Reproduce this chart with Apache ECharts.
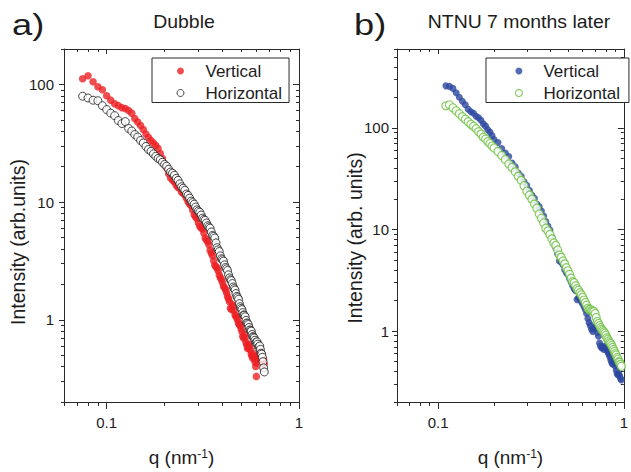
<!DOCTYPE html>
<html>
<head>
<meta charset="utf-8">
<script src="https://cdn.jsdelivr.net/npm/echarts@6/dist/echarts.min.js"></script>
<style>
html,body{margin:0;padding:0;background:#fff;}
#chart{width:631px;height:472px;}
</style>
</head>
<body>
<div id="chart"></div>
<script>
// ---------- data ----------
const qA = [0.075,0.08,0.085,0.09,0.095,0.1,0.105,0.11,0.115,0.12,0.125,0.13,0.135,0.14,0.145,0.15,0.155,0.16,0.165,0.17,0.175,0.18,0.185,0.19,0.195,0.2,
  0.205,0.21,0.215,0.22,0.225,0.23,0.235,0.24,0.245,0.25,
  0.255,0.26,0.265,0.27,0.275,0.28,0.285,0.29,0.295,0.3,
  0.305,0.31,0.315,0.32,0.325,0.33,0.335,0.34,0.345,0.35,
  0.355,0.36,0.365,0.37,0.375,0.38,0.385,0.39,0.395,0.4,
  0.405,0.41,0.415,0.42,0.425,0.43,0.435,0.44,0.445,0.45,
  0.455,0.46,0.465,0.47,0.475,0.48,0.485,0.49,0.495,0.5,
  0.505,0.51,0.515,0.52,0.525,0.53,0.535,0.54,0.545,0.55,
  0.555,0.56,0.565,0.57,0.575,0.58,0.585,0.59,0.595,0.6,
  0.605,0.61,0.615,0.62,0.625,0.63,0.635,0.64,0.645,0.65,
  0.655,0.66];
const verticalA = [111.6,118.3,105.2,95.5,90.1,80.2,73.5,68.6,66.0,63.5,62.3,59.9,57.0,51.3,47.9,44.7,41.4,37.9,35.4,33.4,31.8,30.3,28.6,25.9,23.5,21.0,
  19.5,17.4,16.0,15.3,14.8,13.9,13.3,13.1,12.2,11.9,
  11.5,10.8,10.0,9.61,9.3,8.55,7.8,7.46,7.2,6.64,
  6.2,6.03,5.9,5.47,4.95,4.77,4.6,4.33,3.9,3.70,
  3.5,3.17,2.9,2.82,2.75,2.61,2.4,2.28,2.2,2.07,
  1.93,1.87,1.80,1.70,1.58,1.51,1.42,1.25,1.22,1.35,
  1.30,1.20,1.10,1.07,1.04,0.99,0.93,0.91,0.89,0.84,
  0.79,0.72,0.70,0.75,0.70,0.64,0.61,0.57,0.58,0.62,
  0.59,0.55,0.51,0.49,0.47,0.51,0.48,0.44,0.40,0.33,
  0.43,0.47,0.50,0.52,0.50,0.55,0.53,0.49,0.47,0.45,
  0.46,0.42];
const horizontalA = [79.4,76.7,73.4,72.7,66.0,61.1,57.0,54.3,49.3,46.5,48.3,42.2,40.2,37.5,35.7,33.4,31.8,29.7,28.0,27.0,25.7,24.5,23.5,22.9,21.8,20.9,
  20.2,19.0,18.0,17.6,16.9,15.9,15.3,14.3,13.5,13.1,
  12.6,11.7,11.4,10.8,10.2,9.9,9.6,9.07,8.6,8.39,
  8.2,7.76,7.3,7.11,7.0,6.64,6.3,6.14,6.0,5.57,
  5.2,5.11,4.95,4.50,4.1,3.93,3.8,3.49,3.3,3.23,
  3.15,2.93,2.78,2.71,2.62,2.41,2.27,2.19,2.15,2.03,
  1.90,1.84,1.79,1.67,1.58,1.54,1.49,1.37,1.29,1.25,
  1.22,1.15,1.10,1.09,1.06,0.99,0.94,0.93,0.91,0.86,
  0.82,0.81,0.80,0.75,0.72,0.71,0.70,0.67,0.64,0.64,
  0.65,0.62,0.58,0.59,0.60,0.56,0.52,0.51,0.48,0.44,
  0.39,0.36];

const qB = [0.11,0.115,0.12,0.125,0.13,0.135,0.14,0.145,0.15,0.155,0.16,0.165,0.17,0.175,0.18,0.185,0.19,0.195,0.2,
  0.21,0.22,0.23,0.24,0.25,0.26,0.27,0.28,0.29,0.3,
  0.31,0.32,0.33,0.34,0.35,0.36,0.37,0.38,0.39,0.4,
  0.41,0.42,0.43,0.44,0.45,0.46,0.47,0.48,0.49,0.5,
  0.51,0.52,0.53,0.54,0.55,0.56,0.57,0.58,0.59,0.6,
  0.61,0.62,0.63,0.64,0.65,0.66,0.67,0.68,0.69,0.7,
  0.71,0.72,0.73,0.74,0.75,0.76,0.77,0.78,0.79,0.8,
  0.81,0.82,0.83,0.84,0.85,0.86,0.87,0.88,0.89,0.9,
  0.91,0.92,0.93,0.94,0.95,0.96,0.97];
const verticalB = [260,257,245.5,222,200.5,183.2,169.3,152.9,144.5,139.7,130.6,126.2,119.3,110.3,104.3,96.3,91.1,84.1,76.9,
  71.8,62.8,56.7,52.4,45.3,41.4,36.1,33.4,29.5,27.3,
  24.3,21.8,20.3,17.8,16.8,15.2,13.6,12.0,10.8,9.88,
  8.44,7.38,6.59,5.75,4.91,4.80,4.49,4.01,3.75,3.58,
  3.27,3.03,2.79,2.61,2.50,2.04,2.13,2.13,1.95,1.86,
  1.74,1.63,1.49,1.33,1.21,1.13,1.04,0.99,1.06,1.11,
  1.06,0.97,0.89,0.76,0.71,0.68,0.69,0.66,0.71,0.68,
  0.65,0.62,0.59,0.56,0.52,0.49,0.47,0.50,0.48,0.45,
  0.41,0.38,0.37,0.38,0.36,0.34,0.33];
const horizontalB = [165.5,169.3,158.2,147.8,138.1,129.1,122.1,115.4,109.1,104.3,98.6,91.9,87.1,81.3,77.8,73.5,70.3,66.4,63.5,
  58.6,53.6,49.0,44.3,40.9,37.0,33.4,30.5,27.0,23.8,
  21.8,19.9,17.8,16.2,14.2,12.9,11.6,10.3,9.66,8.93,
  8.07,7.38,6.97,6.30,5.62,5.32,4.91,4.59,4.20,3.92,
  3.62,3.31,3.06,2.99,2.80,2.61,2.52,2.39,2.28,2.16,
  2.02,1.91,1.80,1.68,1.63,1.63,1.59,1.57,1.56,1.49,
  1.36,1.24,1.19,1.13,1.08,1.04,1.01,0.98,0.95,0.91,
  0.86,0.83,0.80,0.77,0.75,0.72,0.69,0.66,0.63,0.60,
  0.58,0.55,0.53,0.50,0.49,0.47,0.45];

const xMajorTicks = [0.1, 1];
const xMinorTicks = [0.06,0.07,0.08,0.09,0.2,0.3,0.4,0.5,0.6,0.7,0.8,0.9];
const yMajorTicks = [1, 10, 100];
const yMinorTicksA = [0.2,0.3,0.4,0.5,0.6,0.7,0.8,0.9,2,3,4,5,6,7,8,9,20,30,40,50,60,70,80,90,200];
const yMinorTicksB = [0.2,0.3,0.4,0.5,0.6,0.7,0.8,0.9,2,3,4,5,6,7,8,9,20,30,40,50,60,70,80,90,200,300,400,500,600];

const panelLetters = ['a)', 'b)'];
const panelTitles = ['Dubble', 'NTNU 7 months later'];
const yNames = ['Intensity (arb.units)', 'Intensity (arb. units)'];
const xName = 'q (nm{sup|-1})';
const seriesNames = ['Vertical', 'Horizontal'];

// ---------- styling ----------
const FONT = '"Liberation Sans", Arial, Helvetica, sans-serif';
const AX = '#2a2a2a';
const TXT = '#1c1c1c';
const RED = '#ec2024';
const BLUE = '#2c479f';
const GREEN = '#6cbf3e';

function xAxes(g) {
  const base = {gridIndex: g, type: 'log', logBase: 10, min: 0.06, max: 1,
    splitLine: {show: false}, minorTick: {show: false}, minorSplitLine: {show: false}};
  const line = {show: true, onZero: false, lineStyle: {color: AX, width: 1}};
  return [
    Object.assign({}, base, {position: 'bottom', axisLine: line,
      axisTick: {show: true, inside: false, length: 7, customValues: xMajorTicks, lineStyle: {color: AX, width: 1}},
      axisLabel: {show: true, customValues: xMajorTicks, margin: 13, fontSize: 15, fontFamily: FONT, color: TXT,
        formatter: v => String(v)},
      name: xName, nameLocation: 'middle', nameGap: 46,
      nameTextStyle: {fontSize: 19, lineHeight: 19, fontFamily: FONT, color: TXT,
        rich: {sup: {fontSize: 12, lineHeight: 10, verticalAlign: 'top', fontFamily: FONT, color: TXT}}}}),
    Object.assign({}, base, {position: 'bottom', axisLine: {show: false, onZero: false},
      axisTick: {show: true, inside: false, length: 4, customValues: xMinorTicks, lineStyle: {color: AX, width: 1}},
      axisLabel: {show: false}}),
    Object.assign({}, base, {position: 'top', axisLine: line,
      axisTick: {show: true, inside: true, length: 5, customValues: xMajorTicks, lineStyle: {color: AX, width: 1}},
      axisLabel: {show: false}}),
    Object.assign({}, base, {position: 'top', axisLine: {show: false, onZero: false},
      axisTick: {show: true, inside: true, length: 3, customValues: xMinorTicks, lineStyle: {color: AX, width: 1}},
      axisLabel: {show: false}})
  ];
}

function yAxes(g, maxV, minorTicks, labelMargin) {
  const base = {gridIndex: g, type: 'log', logBase: 10, min: 0.2, max: maxV,
    splitLine: {show: false}, minorTick: {show: false}, minorSplitLine: {show: false}};
  const line = {show: true, onZero: false, lineStyle: {color: AX, width: 1}};
  return [
    Object.assign({}, base, {position: 'left', axisLine: line,
      axisTick: {show: true, inside: false, length: 5, customValues: yMajorTicks, lineStyle: {color: AX, width: 1}},
      axisLabel: {show: true, customValues: yMajorTicks, margin: labelMargin, fontSize: 15, fontFamily: FONT, color: TXT,
        formatter: v => String(v)}}),
    Object.assign({}, base, {position: 'left', axisLine: {show: false, onZero: false},
      axisTick: {show: true, inside: false, length: 3, customValues: minorTicks, lineStyle: {color: AX, width: 1}},
      axisLabel: {show: false}}),
    Object.assign({}, base, {position: 'right', axisLine: line,
      axisTick: {show: true, inside: true, length: 6, customValues: yMajorTicks, lineStyle: {color: AX, width: 1}},
      axisLabel: {show: false}}),
    Object.assign({}, base, {position: 'right', axisLine: {show: false, onZero: false},
      axisTick: {show: true, inside: true, length: 3, customValues: minorTicks, lineStyle: {color: AX, width: 1}},
      axisLabel: {show: false}})
  ];
}

function pairs(qs, vs) { return qs.map((q, i) => [q, vs[i]]); }

function legendBox(left, padL, padR, textGap, items) {
  return {
    left: left, top: 58, orient: 'vertical', icon: 'circle',
    itemWidth: 7, itemHeight: 7, itemGap: 5,
    padding: [4.5, padR, 1, padL],
    borderColor: '#2a2a2a', borderWidth: 1, backgroundColor: '#fff',
    textStyle: {fontSize: 17, fontFamily: FONT, color: TXT, padding: [0, 0, 0, textGap]},
    selectedMode: false,
    data: items
  };
}

const chart = echarts.init(document.getElementById('chart'), null, {renderer: 'svg', width: 631, height: 472});

const option = {
  backgroundColor: '#fff',
  animation: false,
  grid: [
    {left: 64, top: 49, width: 235, height: 355, containLabel: false},
    {left: 397, top: 49, width: 237, height: 355, containLabel: false}
  ],
  xAxis: xAxes(0).concat(xAxes(1)),
  yAxis: yAxes(0, 200, yMinorTicksA, 10).concat(yAxes(1, 600, yMinorTicksB, 8)),
  legend: [
    legendBox(152, 24.5, 7, 16.5, [
      {name: seriesNames[0], itemStyle: {color: RED, borderWidth: 0}},
      {name: seriesNames[1], itemStyle: {color: '#fff', borderColor: '#1a1a1a', borderWidth: 1}}
    ]),
    legendBox(486, 28.8, 9, 16, [
      {name: seriesNames[0], itemStyle: {color: BLUE, borderWidth: 0}},
      {name: seriesNames[1], itemStyle: {color: '#fff', borderColor: GREEN, borderWidth: 1.2}}
    ])
  ],
  series: [
    {type: 'scatter', name: seriesNames[0], xAxisIndex: 0, yAxisIndex: 0, symbol: 'circle', symbolSize: 7.5,
      itemStyle: {color: RED}, data: pairs(qA, verticalA)},
    {type: 'scatter', name: seriesNames[1], xAxisIndex: 0, yAxisIndex: 0, symbol: 'circle', symbolSize: 8,
      itemStyle: {color: '#fff', borderColor: '#1a1a1a', borderWidth: 1}, data: pairs(qA, horizontalA)},
    {type: 'scatter', name: seriesNames[0], xAxisIndex: 4, yAxisIndex: 4, symbol: 'circle', symbolSize: 7,
      itemStyle: {color: BLUE}, data: pairs(qB, verticalB)},
    {type: 'scatter', name: seriesNames[1], xAxisIndex: 4, yAxisIndex: 4, symbol: 'circle', symbolSize: 8,
      itemStyle: {color: '#fff', borderColor: GREEN, borderWidth: 1.2}, data: pairs(qB, horizontalB)}
  ],
  graphic: [
    {type: 'text', x: 12, y: 25, scaleX: 1.25,
      style: {text: panelLetters[0], fontSize: 29, fontFamily: FONT, fill: TXT, align: 'left', verticalAlign: 'middle'}},
    {type: 'text', x: 354, y: 25, scaleX: 1.25,
      style: {text: panelLetters[1], fontSize: 29, fontFamily: FONT, fill: TXT, align: 'left', verticalAlign: 'middle'}},
    {type: 'text', x: 184, y: 22, scaleX: 1.08,
      style: {text: panelTitles[0], fontSize: 18, fontFamily: FONT, fill: TXT, align: 'center', verticalAlign: 'middle'}},
    {type: 'text', x: 519, y: 22, scaleX: 1.08,
      style: {text: panelTitles[1], fontSize: 18, fontFamily: FONT, fill: TXT, align: 'center', verticalAlign: 'middle'}},
    {type: 'text', x: 18.4, y: 242, rotation: Math.PI / 2,
      style: {text: yNames[0], fontSize: 19.5, fontFamily: FONT, fill: TXT, align: 'center', verticalAlign: 'middle'}},
    {type: 'text', x: 355, y: 238, rotation: Math.PI / 2,
      style: {text: yNames[1], fontSize: 19.5, fontFamily: FONT, fill: TXT, align: 'center', verticalAlign: 'middle'}}
  ]
};
chart.setOption(option);
</script>
</body>
</html>
